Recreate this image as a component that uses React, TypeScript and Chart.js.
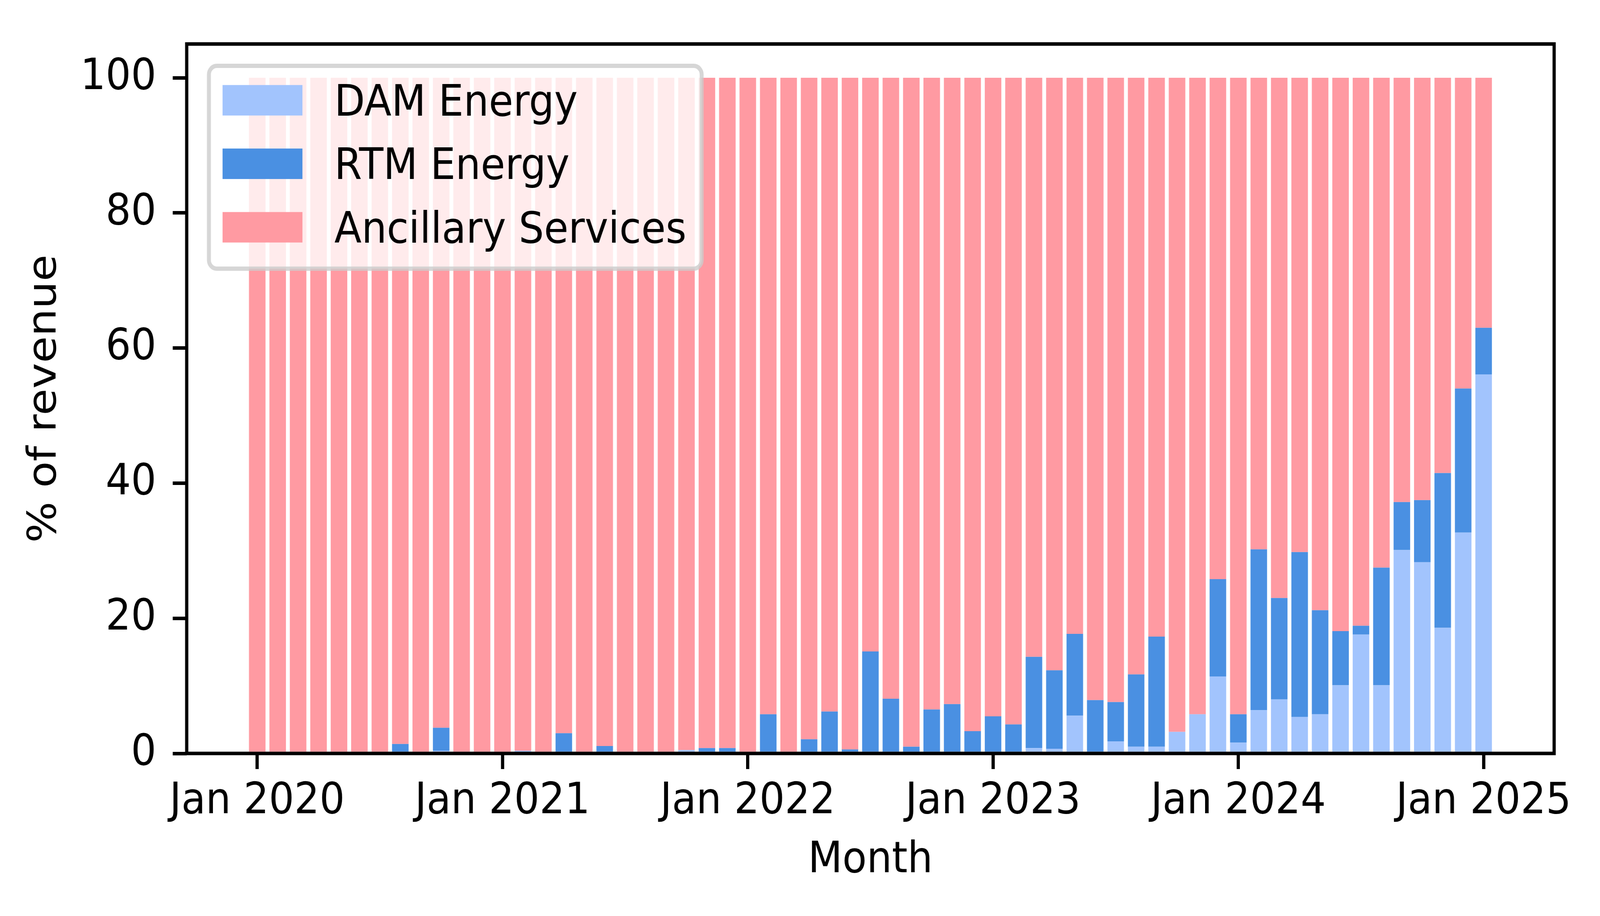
import { useEffect, useRef } from 'react';
import { Chart, registerables } from 'chart.js';

Chart.register(...registerables);

// one bar per month, Jan 2020 .. Jan 2025
const months = [
  '2020-01', '2020-02', '2020-03', '2020-04', '2020-05', '2020-06', '2020-07', '2020-08', '2020-09', '2020-10', '2020-11', '2020-12',
  '2021-01', '2021-02', '2021-03', '2021-04', '2021-05', '2021-06', '2021-07', '2021-08', '2021-09', '2021-10', '2021-11', '2021-12',
  '2022-01', '2022-02', '2022-03', '2022-04', '2022-05', '2022-06', '2022-07', '2022-08', '2022-09', '2022-10', '2022-11', '2022-12',
  '2023-01', '2023-02', '2023-03', '2023-04', '2023-05', '2023-06', '2023-07', '2023-08', '2023-09', '2023-10', '2023-11', '2023-12',
  '2024-01', '2024-02', '2024-03', '2024-04', '2024-05', '2024-06', '2024-07', '2024-08', '2024-09', '2024-10', '2024-11', '2024-12',
  '2025-01',
];

const damEnergy = [
  0, 0, 0, 0, 0, 0, 0, 0, 0, 0.4,
  0, 0, 0, 0.4, 0, 0, 0, 0, 0, 0,
  0, 0.5, 0, 0, 0, 0, 0, 0, 0, 0,
  0, 0, 0, 0, 0, 0, 0, 0, 0.8, 0.7,
  5.6, 0, 1.8, 1.0, 1.0, 3.2, 5.8, 11.4, 1.6, 6.4,
  8.0, 5.4, 5.8, 10.1, 17.6, 10.1, 30.1, 28.3, 18.6, 32.7,
  56.1,
];

const rtmEnergy = [
  0, 0, 0, 0, 0, 0, 0, 1.4, 0, 3.4,
  0, 0, 0, 0, 0, 3.0, 0, 1.1, 0, 0,
  0, 0, 0.8, 0.8, 0, 5.8, 0, 2.1, 6.2, 0.6,
  15.1, 8.1, 1.0, 6.5, 7.3, 3.3, 5.5, 4.3, 13.5, 11.6,
  12.1, 7.9, 5.8, 10.7, 16.3, 0, 0, 14.4, 4.2, 23.8,
  15.0, 24.4, 15.4, 8.0, 1.3, 17.4, 7.1, 9.2, 22.9, 21.3,
  6.9,
];

const ancillary = [
  100, 100, 100, 100, 100, 100, 100, 98.6, 100, 96.2,
  100, 100, 100, 99.6, 100, 97.0, 100, 98.9, 100, 100,
  100, 99.5, 99.2, 99.2, 100, 94.2, 100, 97.9, 93.8, 99.4,
  84.9, 91.9, 99.0, 93.5, 92.7, 96.7, 94.5, 95.7, 85.7, 87.7,
  82.3, 92.1, 92.4, 88.3, 82.7, 96.8, 94.2, 74.2, 94.2, 69.8,
  77.0, 70.2, 78.8, 81.9, 81.1, 72.5, 62.8, 62.5, 58.5, 46.0,
  37.0,
];

const xTickMonths = ['2020-01', '2021-01', '2022-01', '2023-01', '2024-01', '2025-01'];
const xTickLabels = ['Jan 2020', 'Jan 2021', 'Jan 2022', 'Jan 2023', 'Jan 2024', 'Jan 2025'];
const yTicks = [0, 20, 40, 60, 80, 100];

const FONT = 'DejaVu Sans';

// spines all round + matplotlib-like legend in the upper left
const frameAndLegend = {
  id: 'frameAndLegend',
  afterDraw(chart: any) {
    const { ctx, chartArea: a } = chart;
    ctx.save();
    ctx.lineWidth = 9;
    ctx.strokeStyle = '#000';
    ctx.strokeRect(a.left, a.top, a.right - a.left, a.bottom - a.top);

    const bx = a.left + 62, by = a.top + 56, bw = 1375, bh = 519;
    ctx.beginPath();
    ctx.roundRect(bx, by, bw, bh, 22);
    ctx.fillStyle = 'rgba(255,255,255,0.8)';
    ctx.fill();
    ctx.lineWidth = 11;
    ctx.strokeStyle = 'rgba(204,204,204,0.8)';
    ctx.stroke();

    ctx.font = `111px "${FONT}"`;
    ctx.textBaseline = 'alphabetic';
    ctx.textAlign = 'left';
    chart.data.datasets.forEach((ds: any, k: number) => {
      const base = a.top + 183 + k * 162.5;
      ctx.fillStyle = ds.backgroundColor;
      ctx.fillRect(a.left + 100, base - 78, 223, 78);
      ctx.fillStyle = '#000';
      ctx.fillText(ds.label, a.left + 412, base);
    });
    ctx.restore();
  },
};

export default function App() {
  const canvasRef = useRef<HTMLCanvasElement>(null);
  const chartRef = useRef<Chart | null>(null);

  useEffect(() => {
    if (!canvasRef.current) return;
    if (chartRef.current) chartRef.current.destroy();
    document.body.style.margin = '0';
    document.body.style.overflow = 'hidden';

    const pts = (vals: number[]) => vals.map((y, i) => ({ x: i, y }));

    chartRef.current = new Chart(canvasRef.current, {
      type: 'bar',
      data: {
        datasets: [
          { label: 'DAM Energy', data: pts(damEnergy), backgroundColor: '#A2C4FD' },
          { label: 'RTM Energy', data: pts(rtmEnergy), backgroundColor: '#4A90E2' },
          { label: 'Ancillary Services', data: pts(ancillary), backgroundColor: '#FF9AA2' },
        ] as any,
      },
      options: {
        animation: false,
        responsive: false,
        devicePixelRatio: 1,
        layout: { padding: { top: 80, right: 128, bottom: 0, left: 0 } },
        datasets: { bar: { barPercentage: 0.81, categoryPercentage: 1, borderWidth: 0 } },
        plugins: { legend: { display: false }, tooltip: { enabled: false } },
        scales: {
          x: {
            type: 'linear',
            stacked: true,
            offset: false,
            min: -3.45,
            max: 63.45,
            afterFit: (s: any) => { s.height = 416; },
            afterBuildTicks: (s: any) => {
              s.ticks = xTickMonths.map((m) => ({ value: months.indexOf(m) }));
            },
            border: { display: false },
            grid: { offset: false, drawOnChartArea: false, drawTicks: true, tickLength: 40, color: '#000', lineWidth: 9 },
            ticks: {
              autoSkip: false,
              maxRotation: 0,
              padding: 18,
              color: '#000',
              font: { family: FONT, size: 111 },
              callback: (v: any) => xTickLabels[xTickMonths.indexOf(months[v])] ?? '',
            },
            title: { display: true, text: 'Month', color: '#000', font: { family: FONT, size: 111 }, padding: { top: 0, bottom: 74 } },
          },
          y: {
            stacked: true,
            min: 0,
            max: 105,
            afterFit: (s: any) => { s.width = 521; },
            afterBuildTicks: (s: any) => { s.ticks = yTicks.map((v) => ({ value: v })); },
            border: { display: false },
            grid: { drawOnChartArea: false, drawTicks: true, tickLength: 39, color: '#000', lineWidth: 9 },
            ticks: { padding: 46, color: '#000', font: { family: FONT, size: 111 } },
            title: { display: true, text: '% of revenue', color: '#000', font: { family: FONT, size: 111 }, padding: { top: 60, bottom: 0 } },
          },
        },
      } as any,
      plugins: [frameAndLegend],
    });

    return () => {
      if (chartRef.current) {
        chartRef.current.destroy();
        chartRef.current = null;
      }
    };
  }, []);

  // the bitmap is 4465x2344; stretch it over the whole viewport
  return (
    <div style={{ position: 'fixed', left: 0, top: 0, width: '100vw', height: '100vh', overflow: 'hidden', background: '#fff' }}>
      <canvas ref={canvasRef} width={4465} height={2344} style={{ display: 'block', width: '100vw', height: '100vh' }} />
    </div>
  );
}
